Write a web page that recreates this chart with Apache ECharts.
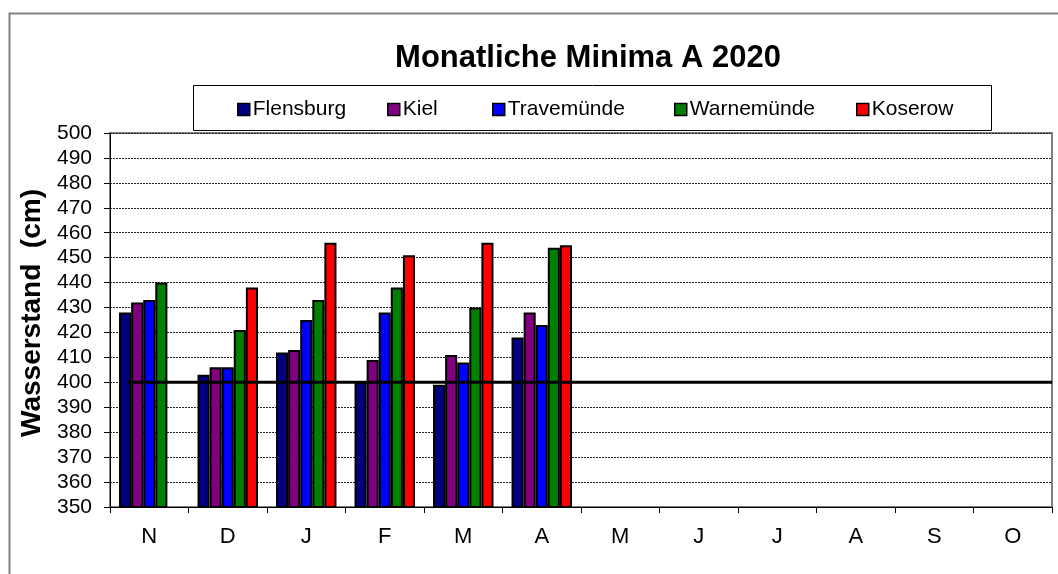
<!DOCTYPE html>
<html>
<head>
<meta charset="utf-8">
<script src="https://cdn.jsdelivr.net/npm/echarts@6/dist/echarts.min.js"></script>
<style>
  html, body { margin: 0; padding: 0; background: #fff; }
  #main { width: 1058px; height: 574px; }
</style>
</head>
<body>
<div id="main"></div>
<script>
// Monate (Nov 2019 - Okt 2020)
var months = ["N", "D", "J", "F", "M", "A", "M", "J", "J", "A", "S", "O"];
// Monatliche Minima, Wasserstand in cm
var flensburg = [428, 403, 412, 400, 399, 418, null, null, null, null, null, null];
var kiel = [432, 406, 413, 409, 411, 428, null, null, null, null, null, null];
var travemuende = [433, 406, 425, 428, 408, 423, null, null, null, null, null, null];
var warnemuende = [440, 421, 433, 438, 430, 454, null, null, null, null, null, null];
var koserow = [null, 438, 456, 451, 456, 455, null, null, null, null, null, null];
// Mittelwasser-Linie (400 cm)
var mwLine = [[0.23, 400], [12, 400]];
var yTicks = { min: 350, max: 500, step: 10 };

var names = ["Flensburg", "Kiel", "Travemünde", "Warnemünde", "Koserow"];
var colors = ["#000080", "#800080", "#0000ff", "#008000", "#ff0000"];
var values = [flensburg, kiel, travemuende, warnemuende, koserow];
var legendLeft = [232, 382, 487, 669, 851];

var myChart = echarts.init(document.getElementById("main"));

var barSeries = names.map(function (n, i) {
  return {
    name: n,
    type: "bar",
    barGap: "0%",
    barCategoryGap: "23%",
    itemStyle: { color: colors[i], borderColor: "#000", borderWidth: 2 },
    data: values[i]
  };
});

myChart.setOption({
  animation: false,
  textStyle: { fontFamily: "Liberation Sans, Arial, sans-serif" },
  title: {
    text: "Monatliche Minima A 2020",
    left: 583,
    textAlign: "center",
    top: 38,
    textStyle: { fontSize: 31, fontWeight: "bold", color: "#000", fontFamily: "Liberation Sans, Arial, sans-serif" }
  },
  legend: names.map(function (n, i) {
    return {
      data: [n],
      left: legendLeft[i],
      top: 94,
      itemWidth: 12,
      itemHeight: 12,
      itemGap: 0,
      icon: "rect",
      itemStyle: { borderWidth: 1.5 },
      textStyle: { fontSize: 21, color: "#000", padding: [0, 0, 0, -2] },
      selectedMode: false
    };
  }),
  graphic: [
    {
      type: "rect",
      shape: { x: 9.5, y: 13.5, width: 1100, height: 600 },
      style: { fill: null, stroke: "#808080", lineWidth: 2 },
      silent: true
    },
    {
      type: "rect",
      shape: { x: 193.5, y: 85.5, width: 798, height: 45 },
      style: { fill: null, stroke: "#000", lineWidth: 1 },
      silent: true
    }
  ],
  grid: {
    left: 110,
    right: 6,
    top: 133,
    bottom: 67,
    show: true,
    borderColor: "#808080",
    borderWidth: 2,
    containLabel: false
  },
  xAxis: [
    {
      type: "category",
      data: months,
      axisLine: { lineStyle: { color: "#000", width: 1 } },
      axisTick: { show: true, length: 6, lineStyle: { color: "#000" } },
      axisLabel: { fontSize: 22, color: "#000", margin: 19 }
    },
    {
      type: "value",
      min: 0,
      max: 12,
      show: false
    }
  ],
  yAxis: {
    type: "value",
    min: yTicks.min,
    max: yTicks.max,
    interval: yTicks.step,
    name: "Wasserstand  (cm)",
    nameLocation: "middle",
    nameGap: 62,
    nameTextStyle: { fontSize: 28, fontWeight: "bold", color: "#000", padding: [0, 0, 0, 14] },
    axisLine: { show: true, lineStyle: { color: "#000", width: 1 } },
    axisTick: { show: true, length: 6, lineStyle: { color: "#000" } },
    axisLabel: { fontSize: 21, color: "#000", margin: 18 },
    splitLine: { show: true, lineStyle: { color: "#222", type: [2, 1], width: 1 } }
  },
  series: barSeries.concat([
    {
      name: "MW",
      type: "line",
      xAxisIndex: 1,
      data: mwLine,
      symbol: "none",
      lineStyle: { color: "#000", width: 3 },
      z: 5,
      silent: true
    }
  ])
});
</script>
</body>
</html>
